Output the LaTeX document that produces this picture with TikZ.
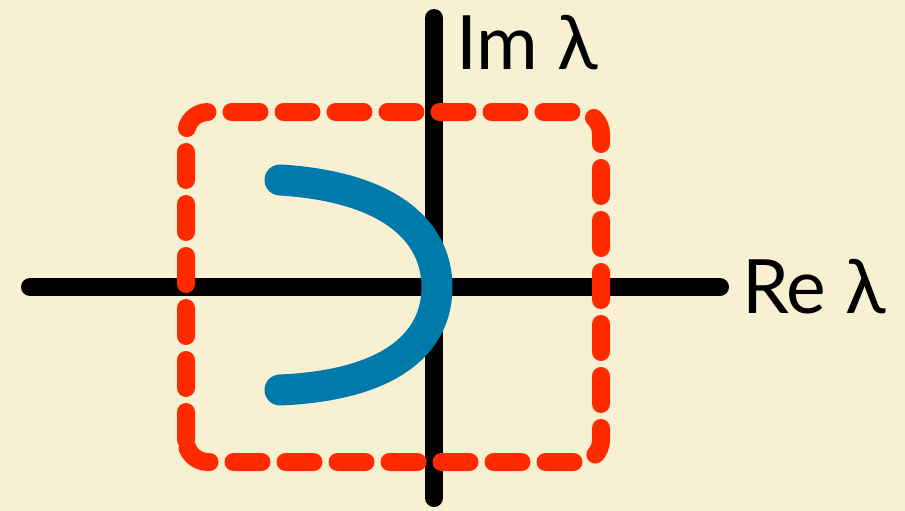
\documentclass[tikz,border=0pt]{standalone}
\usepackage{fontspec}
\setmainfont{Lato}
\definecolor{bgc}{HTML}{F8F0D3}
\definecolor{boxred}{HTML}{FF2A00}
\definecolor{curveblue}{HTML}{0079AB}
\tikzset{
  axis/.style={line width=18pt, line cap=round, black},
  regionbox/.style={line width=18pt, line cap=round, boxred, rounded corners=22pt, dash pattern=on 28pt off 24pt},
  locus/.style={line width=31pt, line cap=round, curveblue},
  axlabel/.style={font=\fontsize{75}{75}\selectfont, inner sep=0pt, anchor=base west}
}
\begin{document}
\begin{tikzpicture}[x=1pt,y=-1pt]
  \fill[bgc] (0,0) rectangle (905,511);
  \useasboundingbox (0,0) rectangle (905,511);
  \coordinate (xl) at (30,287);
  \coordinate (xr) at (720,287);
  \coordinate (yt) at (434,18);
  \coordinate (yb) at (434,498);
  \draw[axis] (xl) -- (xr);
  \draw[axis] (yt) -- (yb);
  \coordinate (b1) at (186,112);
  \coordinate (b2) at (601,462);
  \draw[regionbox] (b1 |- b2) -- (b1) -- (b1 -| b2) -- (b2) -- cycle;
  \coordinate (ctop) at (280,180);
  \coordinate (cmid) at (437,287);
  \coordinate (cbot) at (280,390);
  \draw[locus] (ctop) .. controls (395,187) and (437,235) .. (cmid)
                      .. controls (437,340) and (395,385) .. (cbot);
  \node[axlabel] (im) at (456,70) {Im λ};
  \node[axlabel] (re) at (742,313) {Re λ};
\end{tikzpicture}
\end{document}
